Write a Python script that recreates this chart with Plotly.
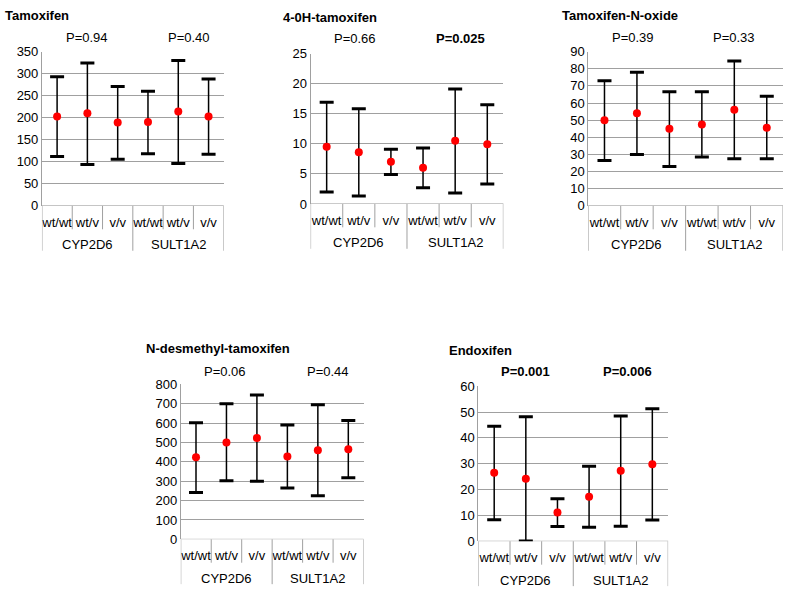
import plotly.graph_objects as go

W, H = 785, 599

subcats = ["wt/wt", "wt/v", "v/v", "wt/wt", "wt/v", "v/v"]
groups = ["CYP2D6", "SULT1A2"]

titles = ["Tamoxifen", "4-0H-tamoxifen", "Tamoxifen-N-oxide", "N-desmethyl-tamoxifen", "Endoxifen"]

tam_mean = [203, 210, 189, 190, 214, 203]
tam_hi = [293, 324, 271, 260, 330, 288]
tam_lo = [112, 94, 106, 118, 96, 117]

oh_mean = [9.5, 8.6, 7.0, 6.0, 10.5, 9.9]
oh_hi = [16.9, 15.8, 9.1, 9.3, 19.1, 16.5]
oh_lo = [2.0, 1.3, 4.9, 2.7, 1.8, 3.3]

nox_mean = [50, 54, 45, 47.5, 56, 45.5]
nox_hi = [73, 78, 66.5, 66.5, 84.5, 64]
nox_lo = [26.5, 30, 23, 28.5, 27.5, 27.5]

ndm_mean = [423, 500, 523, 428, 460, 465]
ndm_hi = [602, 700, 745, 590, 695, 613]
ndm_lo = [242, 302, 300, 265, 225, 318]

endo_mean = [26.5, 24.2, 11.1, 17.2, 27.3, 29.8]
endo_hi = [44.5, 48.2, 16.5, 29.0, 48.5, 51.3]
endo_lo = [8.3, 0.1, 5.7, 5.4, 5.8, 8.2]

pvals = [["P=0.94", "P=0.40"], ["P=0.66", "P=0.025"], ["P=0.39", "P=0.33"],
         ["P=0.06", "P=0.44"], ["P=0.001", "P=0.006"]]
pbold = [[False, False], [False, True], [False, False], [False, False], [True, True]]

y_max = [350, 25, 90, 800, 60]
y_step = [50, 5, 10, 100, 10]

data = [(tam_mean, tam_hi, tam_lo), (oh_mean, oh_hi, oh_lo), (nox_mean, nox_hi, nox_lo),
        (ndm_mean, ndm_hi, ndm_lo), (endo_mean, endo_hi, endo_lo)]

# layout (pixels): plot area left, right, top, bottom
boxes = [(41, 223, 45.7, 204), (310, 503, 47.7, 202), (588, 783, 45.7, 204),
         (180, 363, 387, 546), (478, 668, 389, 548)]
title_pos = [(2, 9), (280, 11), (560, 9), (143, 350), (447, 352)]
p_pos = [[(86, 31), (188, 31)], [(354, 32), (460, 32)], [(633, 31), (734, 31)],
         [(224, 374), (327, 374)], [(525, 374), (627, 374)]]

FONT = "Liberation Sans, Arial, sans-serif"
GRID = "#a0a0a0"

fig = go.Figure()
layout = dict(width=W, height=H, margin=dict(l=0, r=0, t=0, b=0),
              paper_bgcolor="white", plot_bgcolor="white", showlegend=False,
              font=dict(family=FONT, size=13, color="black"))
shapes = []
annotations = []

x_idx = list(range(6))
cap_traces = []
mean_traces = []

for i in range(5):
    sfx = "" if i == 0 else str(i + 1)
    xa, ya = "x" + sfx, "y" + sfx
    mean, hi, lo = data[i]
    l, r, t, b = boxes[i]
    ph = b - t
    mean_traces.append(go.Scatter(
        x=x_idx, y=mean, mode="markers", xaxis=xa, yaxis=ya,
        marker=dict(color="#ff0000", size=8),
        error_y=dict(type="data", symmetric=False,
                     array=[h - m for h, m in zip(hi, mean)],
                     arrayminus=[m - lo_ for m, lo_ in zip(mean, lo)],
                     color="black", thickness=1.5, width=0)))
    cap_traces.append(go.Scatter(
        x=x_idx + x_idx, y=hi + lo, mode="markers", xaxis=xa, yaxis=ya,
        marker=dict(symbol="line-ew", size=10, color="black",
                    line=dict(color="black", width=3))))
    layout["xaxis" + sfx] = dict(
        domain=[l / W, r / W], anchor=ya, range=[-0.5, 5.5],
        tickvals=x_idx, ticktext=subcats, ticks="", showgrid=False,
        zeroline=False, showline=False, ticklabelstandoff=7,
        tickfont=dict(size=13, family=FONT, color="black"), fixedrange=True)
    layout["yaxis" + sfx] = dict(
        domain=[1 - b / H, 1 - t / H], anchor=xa, range=[0, y_max[i]],
        dtick=y_step[i], tick0=0, showgrid=True, gridcolor=GRID, gridwidth=1,
        zeroline=False, showline=True, linecolor=GRID, linewidth=1, ticks="",
        tickfont=dict(size=13, family=FONT, color="black"), fixedrange=True)
    shapes.append(dict(type="line", xref=xa + " domain", yref=ya, x0=0, x1=1, y0=0, y1=0,
                       line=dict(color=GRID, width=1), layer="below"))
    for k in range(7):
        xb = k - 0.5
        full = k in (0, 3, 6)
        depth = 46 if full else 24
        shapes.append(dict(type="line", xref=xa, yref=ya + " domain",
                           x0=xb, x1=xb, y0=0, y1=-depth / ph,
                           line=dict(color=GRID, width=1)))
    for g in range(2):
        annotations.append(dict(text=groups[g], xref=xa, yref=ya + " domain",
                                x=1 + 3 * g, y=0, yshift=-39, showarrow=False,
                                xanchor="center", yanchor="middle",
                                font=dict(size=13, family=FONT, color="black")))
    tx, ty = title_pos[i]
    annotations.append(dict(text="<b>" + titles[i] + "</b>", xref="paper", yref="paper",
                            x=tx / W, y=1 - ty / H, showarrow=False, xanchor="left",
                            yanchor="middle", font=dict(size=13, family=FONT, color="black")))
    for g in range(2):
        px, py = p_pos[i][g]
        txt = pvals[i][g]
        if pbold[i][g]:
            txt = "<b>" + txt + "</b>"
        annotations.append(dict(text=txt, xref="paper", yref="paper",
                                x=px / W, y=1 - py / H, showarrow=False, xanchor="center",
                                yanchor="middle", font=dict(size=13, family=FONT, color="black")))

for tr in cap_traces + mean_traces:
    fig.add_trace(tr)

layout["shapes"] = shapes
layout["annotations"] = annotations
fig.update_layout(**layout)
fig.write_html("out.html", config={"displayModeBar": False},
               post_script="document.body.style.margin='0';document.body.style.overflow='hidden';")
